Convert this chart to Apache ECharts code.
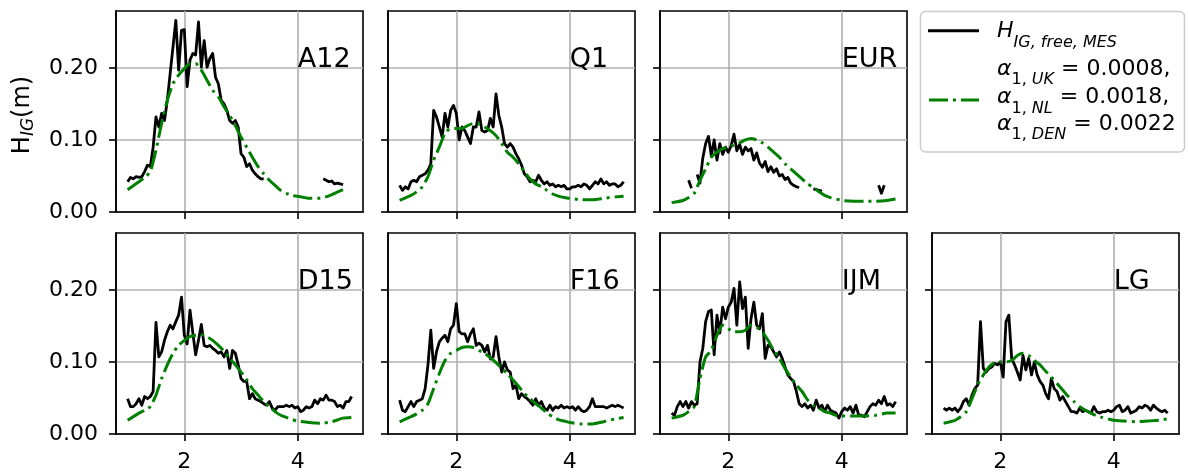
<!DOCTYPE html>
<html><head><meta charset="utf-8">
<script src="https://cdn.jsdelivr.net/npm/echarts@6/dist/echarts.min.js"></script>
<style>html,body{margin:0;padding:0;background:#fff}#c{width:1188px;height:474px}</style>
</head><body><div id="c"></div>
<script>
// ---------- data ----------
const stations = ['A12','Q1','EUR','D15','F16','IJM','LG'];
const xTicks = [2, 4];
const yTicks = [0, 0.1, 0.2];
const xMes = [1.00,1.05,1.10,1.15,1.20,1.25,1.30,1.35,1.40,1.45,1.50,1.55,1.60,1.65,1.70,1.75,1.80,1.85,1.90,1.95,
  2.00,2.05,2.10,2.15,2.20,2.25,2.30,2.35,2.40,2.45,2.50,2.55,2.60,2.65,2.70,2.75,2.80,2.85,2.90,2.95,
  3.00,3.05,3.10,3.15,3.20,3.25,3.30,3.35,3.40,3.45,3.50,3.55,3.60,3.65,3.70,3.75,3.80,3.85,3.90,3.95,
  4.00,4.05,4.10,4.15,4.20,4.25,4.30,4.35,4.40,4.45,4.50,4.55,4.60,4.65,4.70,4.75,4.80,4.85,4.90,4.95];
const xFit = [1.0,1.2,1.3,1.4,1.5,1.6,1.7,1.8,1.9,2.0,2.1,2.2,2.3,2.4,2.5,2.6,2.7,2.8,2.9,3.0,
  3.1,3.2,3.3,3.4,3.5,3.6,3.7,3.8,3.9,4.0,4.2,4.4,4.6,4.8,4.95];

const mesA12 = [0.042,0.048,0.046,0.049,0.048,0.049,0.056,0.065,0.063,0.090,
  0.132,0.118,0.137,0.127,0.155,0.192,0.229,0.266,0.197,0.252,
  0.253,0.174,0.211,0.220,0.218,0.264,0.201,0.238,0.201,0.213,
  0.220,0.187,0.178,0.155,0.150,0.141,0.127,0.123,0.127,0.118,
  0.081,0.076,0.063,0.067,0.058,0.053,0.049,0.046,0.046,null,
  null,null,null,null,null,null,null,null,null,null,
  null,null,null,null,null,null,null,null,null,0.046,
  0.044,0.042,0.043,0.039,0.040,0.039,0.038,null,null,null];
const mesQ1 = [0.037,0.030,0.035,0.032,0.042,0.044,0.042,0.049,0.051,0.053,
  0.058,0.067,0.141,0.132,0.118,0.104,0.137,0.118,0.141,0.148,
  0.137,0.100,0.118,0.113,0.104,0.095,0.118,0.118,0.139,0.113,
  0.111,0.113,0.130,0.118,0.164,0.134,0.118,0.095,0.090,0.095,
  0.090,0.081,0.074,0.065,0.053,0.049,0.042,0.044,0.042,0.051,
  0.044,0.039,0.042,0.037,0.039,0.035,0.037,0.035,0.037,0.032,
  0.032,0.035,0.035,0.037,0.035,0.039,0.037,0.032,0.037,0.042,
  0.039,0.046,0.039,0.042,0.037,0.039,0.039,0.035,0.037,0.042];
const mesEUR = [null,null,null,null,null,null,0.044,0.033,null,0.052,
  0.040,0.075,0.095,0.105,0.078,0.100,0.072,0.095,0.080,0.090,
  0.083,0.092,0.108,0.085,0.094,0.080,0.090,0.085,0.088,0.072,
  0.082,0.068,0.062,0.070,0.056,0.063,0.055,0.060,0.050,0.052,
  0.045,0.048,0.040,0.037,0.035,0.034,null,null,null,null,
  0.032,0.031,0.030,0.029,null,null,null,null,null,null,
  null,null,null,null,null,null,null,null,null,null,
  null,null,null,0.037,0.026,0.037,null,null,null,null];
const mesD15 = [0.049,0.038,0.038,0.042,0.049,0.040,0.052,0.049,0.052,0.059,
  0.155,0.107,0.114,0.130,0.142,0.151,0.146,0.156,0.165,0.190,
  0.137,0.125,0.172,0.140,0.110,0.130,0.152,0.123,0.121,0.123,
  0.119,0.116,0.112,0.114,0.107,0.116,0.091,0.116,0.112,0.096,
  0.077,0.073,0.073,0.049,0.056,0.049,0.047,0.045,0.042,0.040,
  0.045,0.036,0.033,0.038,0.038,0.038,0.040,0.038,0.040,0.036,
  0.038,0.031,0.033,0.038,0.036,0.038,0.047,0.042,0.049,0.047,
  0.054,0.047,0.047,0.045,0.038,0.040,0.036,0.045,0.045,0.052];
const mesF16 = [0.047,0.033,0.031,0.038,0.045,0.038,0.045,0.047,0.049,0.063,
  0.096,0.144,0.091,0.114,0.128,0.133,0.137,0.128,0.146,0.151,
  0.181,0.142,0.139,0.139,0.128,0.139,0.146,0.123,0.126,0.123,
  0.114,0.123,0.104,0.107,0.135,0.107,0.086,0.100,0.089,0.086,
  0.063,0.068,0.049,0.056,0.052,0.049,0.045,0.040,0.049,0.040,
  0.045,0.036,0.033,0.040,0.033,0.038,0.036,0.040,0.036,0.038,
  0.036,0.038,0.033,0.038,0.033,0.031,0.033,0.038,0.049,0.038,
  0.038,0.038,0.038,0.036,0.038,0.040,0.038,0.040,0.038,0.036];
const mesIJM = [0.029,0.026,0.038,0.045,0.038,0.045,0.036,0.045,0.040,0.042,
  0.100,0.119,0.156,0.170,0.172,0.110,0.165,0.140,0.176,0.160,
  0.176,0.183,0.202,0.151,0.211,0.174,0.190,0.119,0.160,0.183,
  0.151,0.146,0.167,0.105,0.123,0.121,0.114,0.107,0.114,0.105,
  0.093,0.082,0.077,0.073,0.059,0.042,0.038,0.042,0.036,0.040,
  0.033,0.047,0.036,0.040,0.031,0.040,0.033,0.031,0.029,0.022,
  0.031,0.036,0.033,0.038,0.029,0.040,0.026,0.026,0.024,0.031,
  0.038,0.042,0.040,0.047,0.042,0.052,0.040,0.042,0.038,0.045];
const mesLG = [0.036,0.033,0.036,0.033,0.036,0.031,0.036,0.045,0.049,0.040,
  0.054,0.063,0.068,0.156,0.091,0.086,0.091,0.093,0.098,0.096,
  0.100,0.079,0.156,0.165,0.105,0.096,0.086,0.075,0.109,0.089,
  0.105,0.082,0.100,0.082,0.073,0.068,0.056,0.049,0.077,0.063,
  0.059,0.047,0.052,0.045,0.038,0.031,0.031,0.029,0.036,0.031,
  0.033,0.031,0.029,0.038,0.031,0.029,0.031,0.031,0.033,0.031,
  0.033,0.038,0.040,0.031,0.033,0.038,0.029,0.031,0.033,0.038,
  0.036,0.040,0.038,0.033,0.040,0.036,0.033,0.031,0.033,0.029];

const fitA12 = [0.031,0.042,0.048,0.056,0.086,0.123,0.155,0.178,0.190,0.199,0.206,0.206,0.197,0.183,0.169,0.160,0.146,0.134,0.120,0.104,
  0.090,0.076,0.063,0.053,0.044,0.037,0.030,0.026,0.023,0.022,0.019,0.019,0.024,0.031,null];
const fitQ1 = [0.016,0.023,0.028,0.035,0.049,0.072,0.090,0.109,0.116,0.116,0.116,0.120,0.123,0.122,0.118,0.113,0.106,0.095,0.083,0.076,
  0.067,0.056,0.046,0.039,0.035,0.030,0.025,0.022,0.020,0.019,0.017,0.017,0.019,0.021,0.022];
const fitEUR = [0.013,0.016,0.020,0.026,0.044,0.060,0.076,0.083,0.088,0.090,0.093,0.096,0.100,0.102,0.100,0.096,0.090,0.083,0.076,0.067,
  0.060,0.053,0.046,0.039,0.034,0.028,0.023,0.020,0.018,0.016,0.015,0.015,0.015,0.016,0.018];
const fitD15 = [0.019,0.029,0.033,0.038,0.054,0.077,0.096,0.112,0.123,0.130,0.135,0.137,0.138,0.135,0.130,0.123,0.115,0.105,0.096,0.086,
  0.075,0.063,0.054,0.045,0.038,0.031,0.026,0.023,0.020,0.018,0.016,0.015,0.017,0.022,0.023];
const fitF16 = [0.017,0.024,0.028,0.033,0.042,0.063,0.084,0.102,0.112,0.116,0.120,0.121,0.120,0.116,0.112,0.106,0.099,0.091,0.084,0.075,
  0.066,0.056,0.049,0.042,0.036,0.029,0.024,0.020,0.018,0.016,0.014,0.014,0.017,0.021,0.023];
const fitIJM = [0.022,0.026,0.031,0.038,0.077,0.107,0.116,0.137,0.151,0.146,0.142,0.142,0.144,0.151,0.148,0.142,0.130,0.116,0.105,0.091,
  0.079,0.068,0.059,0.047,0.040,0.036,0.031,0.029,0.026,0.025,0.025,0.025,0.026,0.029,0.029];
const fitLG = [0.015,0.019,0.024,0.031,0.049,0.068,0.082,0.093,0.099,0.100,0.100,0.102,0.109,0.112,0.109,0.102,0.096,0.087,0.079,0.070,
  0.061,0.052,0.045,0.038,0.033,0.029,0.025,0.023,0.021,0.019,0.018,0.017,0.018,0.019,0.021];

const mesAll = [mesA12, mesQ1, mesEUR, mesD15, mesF16, mesIJM, mesLG];
const fitAll = [fitA12, fitQ1, fitEUR, fitD15, fitF16, fitIJM, fitLG];
const labelAnchor = [4, 0.2];

// ---------- layout / style ----------
const FONT = 'DejaVu Sans';
const cells = [[0,0],[0,1],[0,2],[1,0],[1,1],[1,2],[1,3]];
const colLeft = [116, 388, 660, 932];
const rowTop = [11, 233];
const W = 247, H = 201;
const X_MIN = 0.795, X_MAX = 5.151, Y_MIN = 0, Y_MAX = 0.279;
const GREEN = '#008000';
const DASHDOT = [19, 5, 3, 5];

const grids = [], xAxes = [], yAxes = [], series = [];
stations.forEach((name, i) => {
  const [row, col] = cells[i];
  grids.push({left: colLeft[col], top: rowTop[row], width: W, height: H, show: true,
    borderColor: '#000', borderWidth: 1.6, backgroundColor: '#fff', containLabel: false, outerBoundsMode: 'none'});
  xAxes.push({gridIndex: i, type: 'value', min: X_MIN, max: X_MAX, z: 2,
    axisLine: {show: true, onZero: false, lineStyle: {color: '#000', width: 1.6}},
    axisTick: {show: true, customValues: xTicks, length: 7, lineStyle: {color: '#000', width: 1.6}},
    axisLabel: {show: row === 1, customValues: xTicks, formatter: v => String(v), margin: 17,
      fontSize: 22, fontFamily: FONT, color: '#000'},
    splitLine: {show: true, lineStyle: {color: '#b0b0b0', width: 1.6}}});
  yAxes.push({gridIndex: i, type: 'value', min: Y_MIN, max: Y_MAX, z: 1,
    axisLine: {show: true, onZero: false, lineStyle: {color: '#000', width: 1.6}},
    axisTick: {show: true, customValues: yTicks, length: 7, lineStyle: {color: '#000', width: 1.6}},
    axisLabel: {show: col === 0, customValues: yTicks, formatter: v => v.toFixed(2), margin: 18,
      fontSize: 22, fontFamily: FONT, color: '#000'},
    splitLine: {show: true, lineStyle: {color: '#b0b0b0', width: 1.6}}});
  series.push({type: 'line', xAxisIndex: i, yAxisIndex: i, z: 3, silent: true,
    data: xMes.map((x, k) => [x, mesAll[i][k]]), showSymbol: false, connectNulls: false,
    lineStyle: {color: '#000', width: 2.8, join: 'round'}});
  series.push({type: 'line', xAxisIndex: i, yAxisIndex: i, z: 4, silent: true,
    data: xFit.map((x, k) => [x, fitAll[i][k]]), showSymbol: false, smooth: 0.2,
    lineStyle: {color: GREEN, width: 3, type: DASHDOT, cap: 'butt'}});
});

const richBase = {
  n: {fontFamily: FONT, fontSize: 22, lineHeight: 22, verticalAlign: 'top', color: '#000'},
  i: {fontFamily: FONT, fontSize: 22, lineHeight: 22, verticalAlign: 'top', fontStyle: 'italic', color: '#000'},
  s: {fontFamily: FONT, fontSize: 16, lineHeight: 16, verticalAlign: 'top', padding: [14, 0, 0, 0], color: '#000'},
  si: {fontFamily: FONT, fontSize: 16, lineHeight: 16, verticalAlign: 'top', padding: [14, 0, 0, 0], fontStyle: 'italic', color: '#000'}
};
const legendLines = [
  {y: 20.7, text: '{i|H}{si|IG, free, MES}'},
  {y: 58.2, text: '{i|α}{s|1, }{si|UK}{n| = 0.0008,}'},
  {y: 86.5, text: '{i|α}{s|1, }{si|NL}{n| = 0.0018,}'},
  {y: 113.2, text: '{i|α}{s|1, }{si|DEN}{n| = 0.0022}'}
];

const graphic = [
  {type: 'rect', shape: {x: 920.5, y: 11.5, width: 264, height: 140.5, r: 5}, z: 10,
    style: {fill: 'rgba(255,255,255,0.8)', stroke: '#cccccc', lineWidth: 1.5}},
  {type: 'line', shape: {x1: 928, y1: 30.7, x2: 979, y2: 30.7}, z: 11,
    style: {stroke: '#000', lineWidth: 3}},
  {type: 'line', shape: {x1: 929, y1: 100, x2: 979, y2: 100}, z: 11,
    style: {stroke: GREEN, lineWidth: 3, lineDash: DASHDOT, lineCap: 'butt'}},
  ...legendLines.map(l => ({type: 'text', x: 997, y: l.y, z: 11,
    style: {text: l.text, rich: richBase, align: 'left', verticalAlign: 'top'}})),
  {type: 'text', x: 23, y: 115, rotation: Math.PI / 2, z: 11,
    style: {text: '{r|H}{s|IG}{r|(m)}', align: 'center', verticalAlign: 'middle',
      rich: {
        r: {fontFamily: FONT, fontSize: 24, lineHeight: 24, verticalAlign: 'top', color: '#000'},
        s: {fontFamily: FONT, fontSize: 17, lineHeight: 17, verticalAlign: 'top', fontStyle: 'italic', padding: [9, 0, 0, 0], color: '#000'}
      }}}
];

const chart = echarts.init(document.getElementById('c'), null, {renderer: 'canvas'});
chart.setOption({animation: false, backgroundColor: '#fff', grid: grids, xAxis: xAxes, yAxis: yAxes, series, graphic});

// station labels anchored at data coordinates (4, 0.2), baseline aligned
const stationText = stations.map((name, i) => {
  const p = chart.convertToPixel({gridIndex: i}, labelAnchor);
  return {type: 'text', x: p[0], y: p[1], z: 12,
    style: {text: name, fontFamily: FONT, fontSize: 27, fill: '#000', align: 'left', verticalAlign: 'bottom',
      lineHeight: 27, padding: [0, 0, -6, 0]}};
});
chart.setOption({graphic: graphic.concat(stationText)});
</script></body></html>
